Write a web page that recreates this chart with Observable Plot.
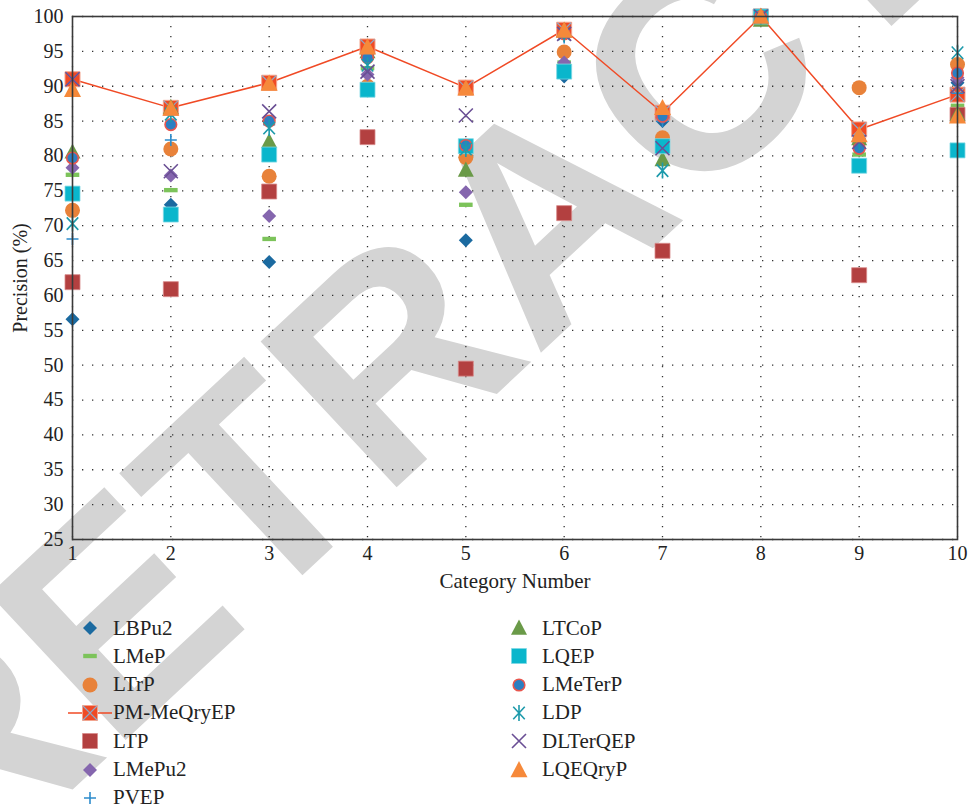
<!DOCTYPE html>
<html>
<head>
<meta charset="utf-8">
<script src="https://cdn.jsdelivr.net/npm/d3@7"></script>
<script src="https://cdn.jsdelivr.net/npm/@observablehq/plot@0.6"></script>
<style>
  body { margin: 0; background: #fff; }
  #wrap { position: relative; width: 968px; height: 810px; overflow: hidden; font-family: "Liberation Serif", "Times New Roman", "DejaVu Serif", serif; }
  #wm { position: absolute; left: 0; top: 0; }
  #chart { position: absolute; left: 0; top: 0; }
  .leg { position: absolute; display: flex; align-items: center; font-size: 21px; color: #222; height: 26px; font-family: "Liberation Serif", "Times New Roman", "DejaVu Serif", serif; }
  .leg svg { display: block; }
</style>
</head>
<body>
<div id="wrap">
  <svg id="wm" width="968" height="810"></svg>
  <div id="chart"></div>
  <div id="legend"></div>
</div>
<script>
const categories = [1, 2, 3, 4, 5, 6, 7, 8, 9, 10];
const yTicks = [25, 30, 35, 40, 45, 50, 55, 60, 65, 70, 75, 80, 85, 90, 95, 100];
const seriesNames = ["LBPu2", "LMeP", "LTrP", "PM-MeQryEP", "LTP", "LMePu2", "PVEP",
                     "LTCoP", "LQEP", "LMeTerP", "LDP", "DLTerQEP", "LQEQryP"];

const LBPu2    = [56.6, 73.0, 64.8, 94.5, 67.9, 91.4, 85.0, 100, 82.0, 90.5];
const LMeP     = [77.3, 75.1, 68.1, 92.6, 73.0, 93.4, 85.9, 100, 80.2, 87.2];
const LTrP     = [72.2, 81.0, 77.1, 90.0, 79.8, 94.9, 82.6, 100, 89.8, 93.1];
const PM_MeQryEP = [91.0, 86.9, 90.5, 95.7, 89.8, 98.1, 86.2, 100, 83.8, 88.8];
const LTP      = [61.9, 60.9, 74.9, 82.7, 49.5, 71.8, 66.4, 100, 62.9, 85.9];
const LMePu2   = [78.3, 77.2, 71.4, 91.7, 74.8, 93.4, 85.5, 100, 82.5, 91.2];
const PVEP     = [68.1, 82.3, 84.5, 94.0, 81.0, 97.0, 85.0, 100, 81.5, 89.0];
const LTCoP    = [80.6, 87.0, 82.1, 95.0, 78.0, 98.0, 79.5, 99.5, 82.5, 86.0];
const LQEP     = [74.6, 71.6, 80.2, 89.5, 81.4, 92.1, 81.4, 100, 78.6, 80.8];
const LMeTerP  = [79.7, 84.5, 85.0, 94.1, 81.5, 97.5, 85.7, 100, 81.1, 91.9];
const LDP      = [70.3, 86.0, 84.0, 93.0, 81.0, 97.5, 77.9, 100, 82.0, 94.8];
const DLTerQEP = [91.0, 77.8, 86.4, 92.1, 85.8, 97.5, 81.1, 100, 82.0, 90.0];
const LQEQryP  = [89.5, 86.8, 90.4, 95.6, 89.7, 98.0, 86.9, 100, 83.0, 85.7];

const seriesValues = [LBPu2, LMeP, LTrP, PM_MeQryEP, LTP, LMePu2, PVEP,
                      LTCoP, LQEP, LMeTerP, LDP, DLTerQEP, LQEQryP];

const FONT = '"Liberation Serif", "Times New Roman", "DejaVu Serif", serif';

// custom symbol helpers (r = radius derived from Plot's size = r^2 * PI)
const sym = fn => ({draw(ctx, size) { fn(ctx, Math.sqrt(size / Math.PI)); }});
const diamond = sym((c, r) => { c.moveTo(0, -r); c.lineTo(r, 0); c.lineTo(0, r); c.lineTo(-r, 0); c.closePath(); });
const square = sym((c, r) => { c.rect(-r, -r, 2 * r, 2 * r); });
const dash = sym((c, r) => { c.rect(-r, -r * 0.32, 2 * r, r * 0.64); });
const circle = sym((c, r) => { c.moveTo(r, 0); c.arc(0, 0, r, 0, 2 * Math.PI); });
const triangle = sym((c, r) => { c.moveTo(0, -r * 1.05); c.lineTo(r, r * 0.85); c.lineTo(-r, r * 0.85); c.closePath(); });
const plus = sym((c, r) => { c.moveTo(-r, 0); c.lineTo(r, 0); c.moveTo(0, -r); c.lineTo(0, r); });
const times = sym((c, r) => { c.moveTo(-r, -r); c.lineTo(r, r); c.moveTo(-r, r); c.lineTo(r, -r); });
const asterisk = sym((c, r) => {
  c.moveTo(0, -r); c.lineTo(0, r);
  const a = 0.72 * r, b = 0.78 * r;
  c.moveTo(-a, -b); c.lineTo(a, b); c.moveTo(-a, b); c.lineTo(a, -b);
});

const styles = {
  "LBPu2":      {symbol: diamond, fill: "#1b6aa0", stroke: "none", r: 7},
  "LMeP":       {symbol: dash, fill: "#7cc35a", stroke: "none", r: 6.8},
  "LTrP":       {symbol: circle, fill: "#e8823a", stroke: "none", r: 7.5},
  "PM-MeQryEP": {symbol: square, fill: "#f04a25", stroke: "#f3a48e", r: 7.5, sw: 1},
  "LTP":        {symbol: square, fill: "#b34040", stroke: "#d88a8a", r: 7.5, sw: 0.8},
  "LMePu2":     {symbol: diamond, fill: "#8566ae", stroke: "none", r: 7},
  "PVEP":       {symbol: plus, fill: "none", stroke: "#2d8ccc", r: 6, sw: 1.6},
  "LTCoP":      {symbol: triangle, fill: "#6a9a48", stroke: "none", r: 8},
  "LQEP":       {symbol: square, fill: "#0ab6cc", stroke: "#7fd8e4", r: 7.5, sw: 0.8},
  "LMeTerP":    {symbol: circle, fill: "#2b7fc2", stroke: "#e8564e", r: 5.8, sw: 1.6},
  "LDP":        {symbol: asterisk, fill: "none", stroke: "#1d9aab", r: 8, sw: 1.6},
  "DLTerQEP":   {symbol: times, fill: "none", stroke: "#6a4f95", r: 7, sw: 1.6},
  "LQEQryP":    {symbol: triangle, fill: "#f6893a", stroke: "none", r: 8.5}
};

const table = [];
seriesNames.forEach((name, i) => {
  seriesValues[i].forEach((v, j) => table.push({series: name, cat: categories[j], value: v}));
});
const rowsOf = name => table.filter(d => d.series === name);

const dotMark = (name) => {
  const s = styles[name];
  return Plot.dot(rowsOf(name), {x: "cat", y: "value", symbol: s.symbol, fill: s.fill,
    stroke: s.stroke, strokeWidth: s.sw || 1, r: s.r});
};

const marks = [
  Plot.gridY(yTicks, {stroke: "#333", strokeOpacity: 1, strokeWidth: 1.3, strokeDasharray: "1.3,8.7"}),
  Plot.gridX(categories, {stroke: "#333", strokeOpacity: 1, strokeWidth: 1.3, strokeDasharray: "1.3,8.7"}),
  Plot.line(rowsOf("PM-MeQryEP"), {x: "cat", y: "value", stroke: "#f04a25", strokeWidth: 1.5})
];
seriesNames.forEach(name => {
  if (name === "LQEQryP") return;
  marks.push(dotMark(name));
  if (name === "PM-MeQryEP") {
    marks.push(Plot.dot(rowsOf(name), {x: "cat", y: "value", symbol: times, stroke: "#8ea7c6", strokeWidth: 1.2, r: 7}));
  }
});
marks.push(dotMark("LQEQryP"));
marks.push(Plot.frame({stroke: "#3a3a3a", strokeWidth: 1.6}));

const chart = Plot.plot({
  width: 968,
  height: 600,
  marginLeft: 72,
  marginRight: 11,
  marginTop: 16,
  marginBottom: 61,
  style: {background: "transparent", fontFamily: FONT, fontSize: "20px", color: "#222", overflow: "visible"},
  x: {domain: [1, 10], ticks: categories, tickFormat: d => String(d), tickSize: 0, tickPadding: 6,
      label: "Category Number", labelAnchor: "center", labelOffset: 48, labelArrow: false},
  y: {domain: [25, 100], ticks: yTicks, tickSize: 0, tickPadding: 9,
      label: "Precision (%)", labelAnchor: "center", labelOffset: 60, labelArrow: false},
  marks
});
d3.select(chart).selectAll("[aria-label='x-axis label'] text, [aria-label='x-axis label']").style("font-size", "21px");
d3.select(chart).selectAll("[aria-label='y-axis label'] text, [aria-label='y-axis label']").style("font-size", "20px");
document.getElementById("chart").appendChild(chart);

// legend
const legend = document.getElementById("legend");
const colX = [90, 519];
const rowY0 = 628, rowStep = 28.3;
seriesNames.forEach((name, i) => {
  const col = i < 7 ? 0 : 1;
  const row = i < 7 ? i : i - 7;
  const s = styles[name];
  const div = document.createElement("div");
  div.className = "leg";
  div.style.left = (colX[col] - 22) + "px";
  div.style.top = (rowY0 + row * rowStep - 13) + "px";
  const svg = d3.create("svg").attr("width", 44).attr("height", 26);
  if (name === "PM-MeQryEP") {
    svg.append("line").attr("x1", 0).attr("x2", 44).attr("y1", 13).attr("y2", 13)
      .attr("stroke", "#f04a25").attr("stroke-width", 1.5);
  }
  const path = d3.symbol().type(s.symbol).size(s.r * s.r * Math.PI)();
  svg.append("path").attr("d", path).attr("transform", "translate(22,13)")
    .attr("fill", s.fill).attr("stroke", s.stroke).attr("stroke-width", s.sw || 1);
  if (name === "PM-MeQryEP") {
    svg.append("path").attr("d", d3.symbol().type(times).size(49 * Math.PI)())
      .attr("transform", "translate(22,13)").attr("fill", "none").attr("stroke", "#8ea7c6").attr("stroke-width", 1.2);
  }
  div.appendChild(svg.node());
  const span = document.createElement("span");
  span.textContent = name;
  span.style.marginLeft = "1px";
  div.appendChild(span);
  legend.appendChild(div);
});

// watermark
const wm = d3.select("#wm");
wm.append("text")
  .attr("x", 0).attr("y", 0)
  .attr("transform", "translate(541,210) rotate(-43)")
  .attr("text-anchor", "middle")
  .attr("dy", "0.36em")
  .attr("font-family", "Liberation Sans, Arial, sans-serif")
  .attr("font-weight", "bold")
  .attr("font-size", 290)
  .attr("fill", "#d4d4d4")
  .text("RETRACTED");
</script>
</body>
</html>
